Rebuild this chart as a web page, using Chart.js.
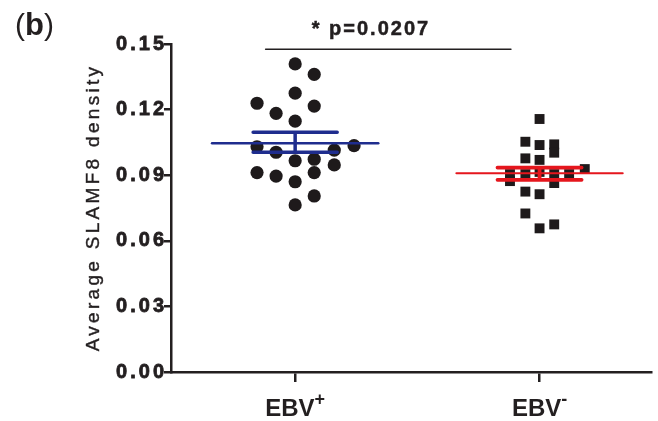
<!DOCTYPE html>
<html>
<head>
<meta charset="utf-8">
<title>SLAMF8 density</title>
<script src="https://cdn.jsdelivr.net/npm/chart.js@4.4.1/dist/chart.umd.min.js"></script>
<style>
    html, body {
        margin: 0;
        padding: 0;
        background: #ffffff;
    }

    canvas {
        display: block;
    }
</style>
</head>
<body>
<canvas id="grafico" width="658" height="421"></canvas>
<script>

// dados

const grupos = ["EBV", "EBV"];

const sobrescritos = ["+", "-"];

const ebvPositivoDesvio = [
    0, 0.078, 0, -0.156, 0.078,
    -0.078, 0, -0.156, 0.241, -0.078,
    0.160, 0, 0.078, 0.160, -0.156,
    -0.078, 0.078, 0, 0.078, 0
];

const ebvPositivoValores = [
    0.1409, 0.1361, 0.1275, 0.1229, 0.1216,
    0.1183, 0.1147, 0.1030, 0.1035, 0.1005,
    0.1015, 0.0966, 0.0973, 0.0947, 0.0912,
    0.0896, 0.0912, 0.0870, 0.0805, 0.0764
];

const ebvNegativoDesvio = [
    0, -0.058, 0, 0.060, 0.060,
    -0.058, 0, 0.185, -0.121, -0.121,
    -0.058, 0, 0.060, 0.060, 0.121,
    -0.058, 0, -0.058, 0.060, 0
];

const ebvNegativoValores = [
    0.1157, 0.1053, 0.1038, 0.1041, 0.1003,
    0.0977, 0.0970, 0.0928, 0.0905, 0.0873,
    0.0905, 0.0915, 0.0905, 0.0864, 0.0905,
    0.0825, 0.0813, 0.0725, 0.0675, 0.0657
];

const medias = [0.1046, 0.0909];

const semSuperior = [0.1096, 0.0935];

const semInferior = [0.1005, 0.0879];

const ticksY = [0, 0.03, 0.06, 0.09, 0.12, 0.15];

const significanciaX = [-0.121, 0.883];

const significanciaY = 0.1476;

const significanciaTextoX = 0.31;

const significanciaTexto = "* p=0.0207";

const tituloY = "Average SLAMF8 density";

const rotuloPainel = "b";

// estilos

const corAzul = "#1f2d8e";

const corVermelho = "#e5161d";

const corPreto = "#1e1a1b";

const corEixo = "#231f20";

const fonte = "'Liberation Sans', Arial, sans-serif";

const MEIA_MEDIA = 0.34;

const MEIA_BARRA = 0.172;

function montarPontos(indice, desvios, valores) {

    return valores.map((valor, i) => ({
        x: indice + desvios[i],
        y: valor
    }));
}

function montarMedia(indice) {

    return [
        { x: indice - MEIA_MEDIA, y: medias[indice] },
        { x: indice + MEIA_MEDIA, y: medias[indice] }
    ];
}

function montarErro(indice) {

    const sup = semSuperior[indice];

    const inf = semInferior[indice];

    return [
        { x: indice - MEIA_BARRA, y: sup },
        { x: indice + MEIA_BARRA, y: sup },
        { x: indice, y: null },
        { x: indice - MEIA_BARRA, y: inf },
        { x: indice + MEIA_BARRA, y: inf },
        { x: indice, y: null },
        { x: indice, y: sup },
        { x: indice, y: inf }
    ];
}

function linha(data, cor, largura) {

    return {
        type: "line",
        data,
        borderColor: cor,
        borderWidth: largura,
        borderCapStyle: "round",
        pointRadius: 0,
        fill: false,
        tension: 0,
        spanGaps: false,
        order: 0
    };
}

const pluginTextos = {

    id: "textos",

    beforeDraw(chart) {

        chart.ctx.letterSpacing = "3px";
    },

    afterDraw(chart) {

        const ctx = chart.ctx;

        const escalaX = chart.scales.x;

        const escalaY = chart.scales.y;

        ctx.save();

        ctx.fillStyle = corEixo;

        ctx.strokeStyle = corEixo;

        ctx.textBaseline = "alphabetic";

        // (b)
        ctx.letterSpacing = "0px";
        ctx.textAlign = "left";

        let px = 15;

        ctx.font = "normal 30px " + fonte;
        ctx.fillText("(", px, 35);
        px += ctx.measureText("(").width;

        ctx.font = "bold 31px " + fonte;
        ctx.fillText(rotuloPainel, px, 35);
        px += ctx.measureText(rotuloPainel).width;

        ctx.font = "normal 30px " + fonte;
        ctx.fillText(")", px, 35);

        // rotulos do eixo x com sobrescrito
        grupos.forEach((grupo, i) => {

            const centro = escalaX.getPixelForValue(i);

            ctx.font = "bold 24px " + fonte;
            const larguraBase = ctx.measureText(grupo).width;

            ctx.font = "bold 18px " + fonte;
            const larguraSup = ctx.measureText(sobrescritos[i]).width;

            const inicio = centro - (larguraBase + larguraSup) / 2;

            ctx.font = "bold 24px " + fonte;
            ctx.fillText(grupo, inicio, 416);

            ctx.font = "bold 18px " + fonte;
            ctx.fillText(sobrescritos[i], inicio + larguraBase, 405);
        });

        // texto de significancia
        ctx.font = "bold 20px " + fonte;
        ctx.letterSpacing = "2px";
        ctx.textAlign = "center";
        ctx.lineWidth = 0.5;

        const sigX = escalaX.getPixelForValue(significanciaTextoX);
        const sigY = escalaY.getPixelForValue(significanciaY) - 14;

        ctx.fillText(significanciaTexto, sigX, sigY);
        ctx.strokeText(significanciaTexto, sigX, sigY);

        // titulo do eixo y
        ctx.font = "normal 19px " + fonte;
        ctx.letterSpacing = "3.3px";
        ctx.lineWidth = 0.4;
        ctx.translate(99, 207.5);
        ctx.rotate(-Math.PI / 2);
        ctx.fillText(tituloY, 0, 0);
        ctx.strokeText(tituloY, 0, 0);

        ctx.restore();

        ctx.letterSpacing = "0px";
    }
};

function renderizarGrafico() {

    const canvas = document.getElementById("grafico");

    new Chart(canvas, {

        type: "scatter",

        data: {

            datasets: [

                linha(montarMedia(0), corAzul, 2.5),

                linha(montarErro(0), corAzul, 3.5),

                linha(montarMedia(1), corVermelho, 2.2),

                linha(montarErro(1), corVermelho, 3.8),

                linha(
                    significanciaX.map(x => ({ x, y: significanciaY })),
                    corEixo,
                    1.4
                ),

                {
                    type: "scatter",
                    data: montarPontos(0, ebvPositivoDesvio, ebvPositivoValores),
                    pointStyle: "circle",
                    pointRadius: 6.6,
                    backgroundColor: corPreto,
                    borderWidth: 0,
                    order: 1
                },

                {
                    type: "scatter",
                    data: montarPontos(1, ebvNegativoDesvio, ebvNegativoValores),
                    pointStyle: "rect",
                    pointRadius: 7,
                    backgroundColor: corPreto,
                    borderWidth: 0,
                    order: 1
                }
            ]
        },

        options: {

            responsive: false,

            animation: false,

            devicePixelRatio: 1,

            events: [],

            layout: {
                padding: { top: 44, right: 0, bottom: 0, left: 0 }
            },

            plugins: {
                legend: { display: false },
                tooltip: { enabled: false }
            },

            scales: {

                x: {
                    type: "linear",
                    min: -0.508,
                    max: 1.456,
                    afterBuildTicks: escala => {
                        escala.ticks = grupos.map((_, i) => ({ value: i }));
                    },
                    afterFit: escala => {
                        escala.height = 49;
                    },
                    grid: {
                        display: true,
                        drawOnChartArea: false,
                        drawTicks: true,
                        tickLength: 10,
                        color: corEixo,
                        lineWidth: 2.5
                    },
                    border: {
                        display: true,
                        color: corEixo,
                        width: 2.5
                    },
                    ticks: {
                        callback: () => "",
                        padding: 0
                    }
                },

                y: {
                    type: "linear",
                    min: 0,
                    max: 0.15,
                    afterBuildTicks: escala => {
                        escala.ticks = ticksY.map(v => ({ value: v }));
                    },
                    afterFit: escala => {
                        escala.width = 171;
                    },
                    grid: {
                        display: true,
                        drawOnChartArea: false,
                        drawTicks: true,
                        tickLength: 7,
                        color: corEixo,
                        lineWidth: 2.5
                    },
                    border: {
                        display: true,
                        color: corEixo,
                        width: 2.5
                    },
                    ticks: {
                        callback: v => Number(v).toFixed(2),
                        color: corEixo,
                        padding: -3,
                        textStrokeColor: corEixo,
                        textStrokeWidth: 0.8,
                        font: {
                            family: fonte,
                            weight: "bold",
                            size: 20
                        }
                    }
                }
            }
        },

        plugins: [pluginTextos]
    });
}

renderizarGrafico();

</script>
</body>
</html>
